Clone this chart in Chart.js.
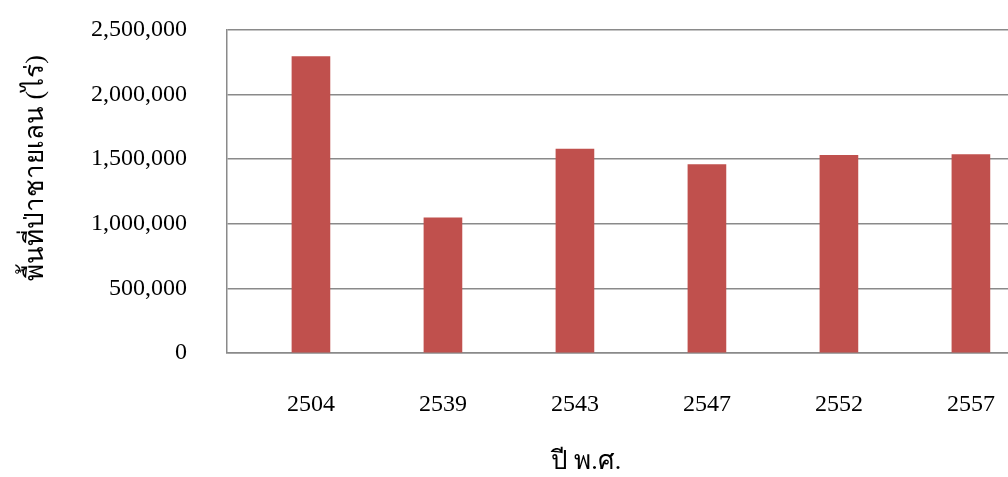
<!DOCTYPE html>
<html>
<head>
<meta charset="utf-8">
<script src="https://cdn.jsdelivr.net/npm/chart.js@4.4.1/dist/chart.umd.min.js"></script>
<style>
  html, body { margin: 0; padding: 0; background: #ffffff; overflow: hidden; }
  #wrap { width: 1008px; height: 477px; position: relative; }
</style>
</head>
<body>
<div id="wrap"><canvas id="c" width="1008" height="477"></canvas></div>
<script>
// Mangrove forest area (rai) by Buddhist-era year
const years = ['2504', '2539', '2543', '2547', '2552', '2557'];
const areaRai = [2295000, 1046000, 1578000, 1459000, 1529000, 1536000];
const yTicks = [0, 500000, 1000000, 1500000, 2000000, 2500000];

const xTitle = 'ปี พ.ศ.';
const yTitle = 'พื้นที่ป่าชายเลน (ไร่)';

const serif = '"Liberation Serif", "Times New Roman", serif';
const gridGray = '#8a8a8a';

// Axis titles placed relative to the chart area
const axisTitles = {
  id: 'axisTitles',
  afterDraw(chart) {
    const { ctx, chartArea } = chart;
    ctx.save();
    ctx.fillStyle = '#000000';
    ctx.font = '26px ' + serif;
    ctx.textAlign = 'center';
    ctx.textBaseline = 'middle';
    ctx.fillText(xTitle, chartArea.left + 359, 462);
    ctx.translate(36, chartArea.top + 138);
    ctx.rotate(-Math.PI / 2);
    ctx.fillText(yTitle, 0, 0);
    ctx.restore();
  }
};

const points = years.map((y, i) => ({ x: i, y: areaRai[i] }));

new Chart(document.getElementById('c'), {
  type: 'bar',
  data: {
    datasets: [{
      data: points,
      backgroundColor: '#C0504D',
      borderWidth: 0,
      barThickness: 38
    }]
  },
  options: {
    responsive: false,
    animation: false,
    events: [],
    layout: { padding: { top: 30, right: 0, bottom: 0, left: 0 } },
    plugins: {
      legend: { display: false },
      tooltip: { enabled: false }
    },
    scales: {
      x: {
        type: 'linear',
        offset: false,
        min: -0.636,
        max: 5.281,
        afterFit(scale) {
          scale.height = 124;
          scale.paddingLeft = 0;
          scale.paddingRight = 0;
        },
        grid: { display: false, drawTicks: false, offset: false },
        border: { display: true, color: gridGray, width: 1.5 },
        ticks: {
          stepSize: 1,
          includeBounds: false,
          autoSkip: false,
          maxRotation: 0,
          padding: 37,
          color: '#000000',
          font: { family: serif, size: 24 },
          callback(v) {
            return Number.isInteger(v) && years[v] !== undefined ? years[v] : '';
          }
        }
      },
      y: {
        min: 0,
        max: 2500000,
        afterFit(scale) {
          scale.width = 227;
          scale.paddingTop = 0;
          scale.paddingBottom = 0;
        },
        afterBuildTicks(scale) { scale.ticks = yTicks.map(v => ({ value: v })); },
        grid: { color: gridGray, lineWidth: 1.5, drawTicks: false },
        border: { display: true, color: gridGray, width: 1.5 },
        ticks: {
          padding: 40,
          color: '#000000',
          font: { family: serif, size: 24 },
          callback(v) { return Number(v).toLocaleString('en-US'); }
        }
      }
    }
  },
  plugins: [axisTitles]
});
</script>
</body>
</html>
